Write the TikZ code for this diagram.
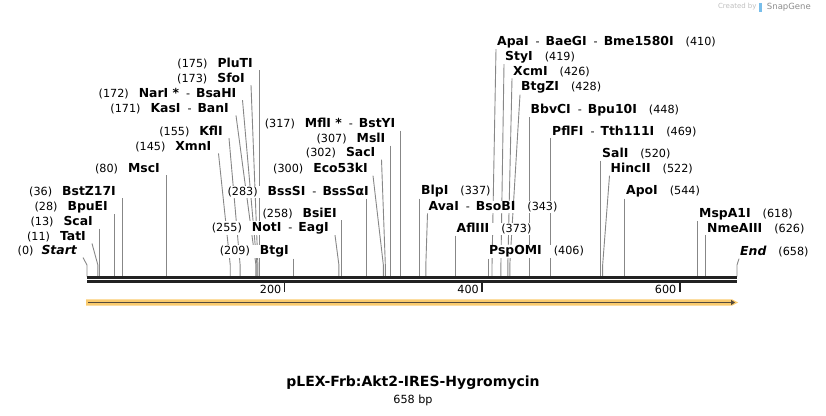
\documentclass[tikz,border=0pt]{standalone}
\usepackage{fontspec}
\setmainfont{DejaVu Sans}
\usetikzlibrary{arrows.meta,backgrounds}
\definecolor{sitegray}{RGB}{135,135,135}
\definecolor{seqblack}{RGB}{34,34,34}
\definecolor{featband}{RGB}{250,203,110}
\definecolor{featcore}{RGB}{85,75,60}
\definecolor{snapblue}{RGB}{120,190,235}
\newcommand{\enz}[1]{{\fontsize{12.4}{14}\selectfont\bfseries #1}}
\newcommand{\dash}{\hspace{7pt}-\hspace{6pt}}
\tikzstyle{every node}=[inner sep=1pt, font=\fontsize{11.2}{13}\selectfont]
\tikzstyle{lsite}=[anchor=east, fill=white]
\tikzstyle{rsite}=[anchor=west, fill=white]
\tikzstyle{cutline}=[draw=sitegray, line width=0.9pt]
\tikzstyle{seqline}=[draw=seqblack, line width=2.7pt]
\tikzstyle{ruler}=[draw=seqblack, line width=1.8pt]
\def\bp{0.98784}

\begin{document}
\begin{tikzpicture}[x=1pt, y=-1pt]
\useasboundingbox (0,0) rectangle (826,415);
\coordinate (knee) at (0,265);

% cut sites on the sequence
\coordinate (startcut)   at ({87+0*\bp},276.5);
\coordinate (tatIcut)    at ({87+11*\bp},276.5);
\coordinate (scaIcut)    at ({87+13*\bp},276.5);
\coordinate (bpuEIcut)   at ({87+28*\bp},276.5);
\coordinate (bstZcut)    at ({87+36*\bp},276.5);
\coordinate (mscIcut)    at ({87+80*\bp},276.5);
\coordinate (xmnIcut)    at ({87+145*\bp},276.5);
\coordinate (kflIcut)    at ({87+155*\bp},276.5);
\coordinate (kasIcut)    at ({87+171*\bp},276.5);
\coordinate (narIcut)    at ({87+172*\bp},276.5);
\coordinate (sfoIcut)    at ({87+173*\bp},276.5);
\coordinate (pluTIcut)   at ({87+175*\bp},276.5);
\coordinate (btgIcut)    at ({87+209*\bp},276.5);
\coordinate (notIcut)    at ({87+255*\bp},276.5);
\coordinate (bsiEIcut)   at ({87+258*\bp},276.5);
\coordinate (bssSIcut)   at ({87+283*\bp},276.5);
\coordinate (ecoIcut)    at ({87+300*\bp},276.5);
\coordinate (sacIcut)    at ({87+302*\bp},276.5);
\coordinate (mslIcut)    at ({87+307*\bp},276.5);
\coordinate (mflIcut)    at ({87+317*\bp},276.5);
\coordinate (blpIcut)    at ({87+337*\bp},276.5);
\coordinate (avaIcut)    at ({87+343*\bp},276.5);
\coordinate (aflIIIcut)  at ({87+373*\bp},276.5);
\coordinate (pspOMIcut)  at ({87+406*\bp},276.5);
\coordinate (apaIcut)    at ({87+410*\bp},276.5);
\coordinate (styIcut)    at ({87+419*\bp},276.5);
\coordinate (xcmIcut)    at ({87+426*\bp},276.5);
\coordinate (btgZIcut)   at ({87+428*\bp},276.5);
\coordinate (bbvCIcut)   at ({87+448*\bp},276.5);
\coordinate (pflFIcut)   at ({87+469*\bp},276.5);
\coordinate (salIcut)    at ({87+520*\bp},276.5);
\coordinate (hincIIcut)  at ({87+522*\bp},276.5);
\coordinate (apoIcut)    at ({87+544*\bp},276.5);
\coordinate (mspAcut)    at ({87+618*\bp},276.5);
\coordinate (nmeAcut)    at ({87+626*\bp},276.5);
\coordinate (endcut)     at ({87+658*\bp},276.5);

% labels left of their sites
\node (start)   [lsite] at (78,251)    {(0)\hspace{8pt}\enz{\itshape Start}};
\node (tatI)    [lsite] at (87,237)    {(11)\hspace{10pt}\enz{TatI}};
\node (scaI)    [lsite] at (94,222)    {(13)\hspace{10pt}\enz{ScaI}};
\node (bpuEI)   [lsite] at (109,207)   {(28)\hspace{10pt}\enz{BpuEI}};
\node (bstZ)    [lsite] at (117,192)   {(36)\hspace{10pt}\enz{BstZ17I}};
\node (mscI)    [lsite] at (161,169)   {(80)\hspace{10pt}\enz{MscI}};
\node (xmnI)    [lsite] at (212.5,147) {(145)\hspace{10pt}\enz{XmnI}};
\node (kflI)    [lsite] at (224,131.5) {(155)\hspace{10pt}\enz{KflI}};
\node (kasI)    [lsite] at (230,109)   {(171)\hspace{10pt}\enz{KasI}\dash\enz{BanI}};
\node (narI)    [lsite] at (237.5,93.5){(172)\hspace{10pt}\enz{NarI *}\dash\enz{BsaHI}};
\node (sfoI)    [lsite] at (246,78.5)  {(173)\hspace{10pt}\enz{SfoI}};
\node (pluTI)   [lsite] at (254,63.5)  {(175)\hspace{10pt}\enz{PluTI}};
\node (btgI)    [lsite] at (290,251.5) {(209)\hspace{10pt}\enz{BtgI}};
\node (notI)    [lsite] at (330,228)   {(255)\hspace{10pt}\enz{NotI}\dash\enz{EagI}};
\node (bsiEI)   [lsite] at (338,213.5) {(258)\hspace{10pt}\enz{BsiEI}};
\node (bssSI)   [lsite] at (370,192)   {(283)\hspace{10pt}\enz{BssSI}\dash\enz{BssSαI}};
\node (ecoI)    [lsite] at (369,169)   {(300)\hspace{10pt}\enz{Eco53kI}};
\node (sacI)    [lsite] at (376.5,153) {(302)\hspace{10pt}\enz{SacI}};
\node (mslI)    [lsite] at (386.5,139) {(307)\hspace{10pt}\enz{MslI}};
\node (mflI)    [lsite] at (396.5,124) {(317)\hspace{10pt}\enz{MflI *}\dash\enz{BstYI}};

% labels right of their sites
\node (blpI)    [rsite] at (420,191.5)   {\enz{BlpI}\hspace{12pt}(337)};
\node (avaI)    [rsite] at (427.5,207)   {\enz{AvaI}\dash\enz{BsoBI}\hspace{12pt}(343)};
\node (aflIII)  [rsite] at (455.5,229)   {\enz{AflIII}\hspace{12pt}(373)};
\node (pspOMI)  [rsite] at (488,251.5)   {\enz{PspOMI}\hspace{12pt}(406)};
\node (apaI)    [rsite] at (496,42)      {\enz{ApaI}\dash\enz{BaeGI}\dash\enz{Bme1580I}\hspace{12pt}(410)};
\node (styI)    [rsite] at (504,57)      {\enz{StyI}\hspace{12pt}(419)};
\node (xcmI)    [rsite] at (512,72)      {\enz{XcmI}\hspace{12pt}(426)};
\node (btgZI)   [rsite] at (520,87.5)    {\enz{BtgZI}\hspace{12pt}(428)};
\node (bbvCI)   [rsite] at (529.5,110)   {\enz{BbvCI}\dash\enz{Bpu10I}\hspace{12pt}(448)};
\node (pflFI)   [rsite] at (551,131.5)   {\enz{PflFI}\dash\enz{Tth111I}\hspace{12pt}(469)};
\node (salI)    [rsite] at (601,154)     {\enz{SalI}\hspace{12pt}(520)};
\node (hincII)  [rsite] at (609.5,169)   {\enz{HincII}\hspace{12pt}(522)};
\node (apoI)    [rsite] at (625,191.5)   {\enz{ApoI}\hspace{12pt}(544)};
\node (mspA)    [rsite] at (698,214)     {\enz{MspA1I}\hspace{12pt}(618)};
\node (nmeA)    [rsite] at (706,229)     {\enz{NmeAIII}\hspace{12pt}(626)};
\node (end)     [rsite] at (739,252)     {\enz{\itshape End}\hspace{12pt}(658)};

% lines from the labels to the sites, behind the labels
\begin{scope}[on background layer]
\draw [cutline] ([xshift=5pt]start.south east) -- (startcut |- knee) -- (startcut);
\draw [cutline] ([xshift=5pt]tatI.south east)  -- (tatIcut |- knee)  -- (tatIcut);
\draw [cutline] (scaI.south -| scaIcut)   -- (scaIcut);
\draw [cutline] (bpuEI.south -| bpuEIcut) -- (bpuEIcut);
\draw [cutline] (bstZ.south -| bstZcut)   -- (bstZcut);
\draw [cutline] (mscI.south -| mscIcut)   -- (mscIcut);
\draw [cutline] ([xshift=6pt]xmnI.south east) -- (xmnIcut |- knee) -- (xmnIcut);
\draw [cutline] ([xshift=5pt]kflI.south east) -- (kflIcut |- knee) -- (kflIcut);
\draw [cutline] ([xshift=6pt]kasI.south east) -- (kasIcut |- knee) -- (kasIcut);
\draw [cutline] ([xshift=5pt]narI.south east) -- (narIcut |- knee) -- (narIcut);
\draw [cutline] ([xshift=5pt]sfoI.south east) -- (sfoIcut |- knee) -- (sfoIcut);
\draw [cutline] (pluTI.south -| pluTIcut) -- (pluTIcut);
\draw [cutline] (btgI.south -| btgIcut)   -- (btgIcut);
\draw [cutline] ([xshift=5pt]notI.south east) -- (notIcut |- knee) -- (notIcut);
\draw [cutline] (bsiEI.south -| bsiEIcut) -- (bsiEIcut);
\draw [cutline] (bssSI.south -| bssSIcut) -- (bssSIcut);
\draw [cutline] ([xshift=4pt]ecoI.south east) -- (ecoIcut |- knee) -- (ecoIcut);
\draw [cutline] ([xshift=5pt]sacI.south east) -- (sacIcut |- knee) -- (sacIcut);
\draw [cutline] (mslI.south -| mslIcut)   -- (mslIcut);
\draw [cutline] (mflI.south -| mflIcut)   -- (mflIcut);

\draw [cutline] (blpI.south -| blpIcut)     -- (blpIcut);
\draw [cutline] (avaI.south west)   -- (avaIcut |- knee)   -- (avaIcut);
\draw [cutline] (aflIII.south -| aflIIIcut) -- (aflIIIcut);
\draw [cutline] (pspOMI.south -| pspOMIcut) -- (pspOMIcut);
\draw [cutline] (apaI.south west)   -- (apaIcut |- knee)   -- (apaIcut);
\draw [cutline] (styI.south west)   -- (styIcut |- knee)   -- (styIcut);
\draw [cutline] (xcmI.south west)   -- (xcmIcut |- knee)   -- (xcmIcut);
\draw [cutline] (btgZI.south west)  -- (btgZIcut |- knee)  -- (btgZIcut);
\draw [cutline] (bbvCI.south -| bbvCIcut)   -- (bbvCIcut);
\draw [cutline] (pflFI.south -| pflFIcut)   -- (pflFIcut);
\draw [cutline] (salI.south -| salIcut)     -- (salIcut);
\draw [cutline] (hincII.south west) -- (hincIIcut |- knee) -- (hincIIcut);
\draw [cutline] (apoI.south -| apoIcut)     -- (apoIcut);
\draw [cutline] (mspA.south -| mspAcut)     -- (mspAcut);
\draw [cutline] (nmeA.south -| nmeAcut)     -- (nmeAcut);
\draw [cutline] (end.south west)    -- (endcut |- knee)    -- (endcut);
\end{scope}

% sequence and ruler
\draw [seqline] (87,277.5) -- (737,277.5);
\draw [seqline] (87,281.5) -- (737,281.5);
\draw [ruler] ({87+200*\bp},281) -- ({87+200*\bp},292);
\draw [ruler] ({87+400*\bp},281) -- ({87+400*\bp},292);
\draw [ruler] ({87+600*\bp},281) -- ({87+600*\bp},292);
\node (t200) [anchor=east] at (282.5,289) {200};
\node (t400) [anchor=east] at (480,289)   {400};
\node (t600) [anchor=east] at (677.5,289) {600};

% feature arrow
\fill [featband] (86,299.3) -- (732,299.3) -- (738,302.5) -- (732,305.7) -- (86,305.7) -- cycle;
\draw [featcore, line width=1.6pt, -{Triangle[length=4pt,width=5pt]}] (88,302.5) -- (735,302.5);

% title
\node (title) at (413,383) {\fontsize{14}{16}\selectfont\bfseries pLEX-Frb:Akt2-IRES-Hygromycin};
\node (size)  at (413,400) {658 bp};

% credit
\node (snap)    [anchor=east, text=black!45, font=\fontsize{8.5}{10}\selectfont] at (812,7) {SnapGene};
\fill [snapblue] ([xshift=-2pt]snap.west) ++(-5,-4) rectangle ++(3,9);
\node (created) [anchor=east, text=black!25, font=\fontsize{7}{9}\selectfont] at ([xshift=-8pt]snap.west) {Created by};
\end{tikzpicture}
\end{document}
